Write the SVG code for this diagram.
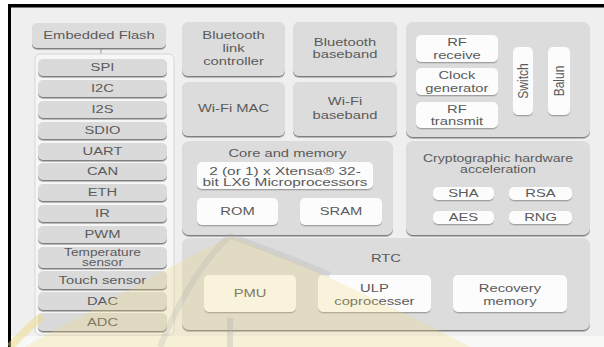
<svg xmlns="http://www.w3.org/2000/svg" width="604" height="347" viewBox="0 0 604 347">
<style>
.t{font-family:"Liberation Sans",Arial,Helvetica,sans-serif;font-size:11px;fill:#5a5a5a;text-anchor:middle;dominant-baseline:central;transform-box:fill-box;transform-origin:center;transform:scaleX(1.34)}
.r{font-family:"Liberation Sans",Arial,Helvetica,sans-serif;font-size:12px;fill:#5a5a5a;text-anchor:middle;dominant-baseline:central}
.blk{fill:#dcdcdc;filter:url(#sh)}
.itm{fill:#dadada;filter:url(#sh)}
.wb{fill:#fcfcfc;filter:url(#sh2)}
.big{font-size:11.5px}
.sm{font-size:10.2px}
</style>
<defs>
<filter id="sh" x="-5%" y="-10%" width="110%" height="130%"><feDropShadow dx="0" dy="1.5" stdDeviation="0.4" flood-color="#7f7f7f"/></filter>
<filter id="sh2" x="-5%" y="-10%" width="110%" height="130%"><feDropShadow dx="0" dy="1.3" stdDeviation="0.4" flood-color="#a0a0a0"/></filter>
</defs>
<rect x="0" y="0" width="604" height="347" fill="#ffffff"/>
<rect x="11" y="7" width="593" height="340" fill="#efefef"/>
<rect x="11" y="336" width="593" height="11" fill="#f8f8f6"/>
<rect x="8" y="4" width="596" height="3.5" fill="#000"/>
<rect x="8" y="4" width="3" height="343" fill="#000"/>

<g id="connectors">
<line x1="101" y1="48" x2="101" y2="56" stroke="#9a9a9a" stroke-width="1"/>
</g>

<g id="flash"><rect class="blk" x="32" y="23" width="134" height="25" rx="5"/><text class="t" x="99" y="35">Embedded Flash</text></g>

<g id="periph">
<rect x="35" y="54" width="139" height="281" rx="5" fill="#f6f6f6" stroke="#d6d6d6" stroke-width="1"/>
<g id="spi"><rect class="itm" x="38" y="59" width="129" height="17" rx="5"/><text class="t" x="102.5" y="67.5">SPI</text></g>
<g id="i2c"><rect class="itm" x="38" y="80" width="129" height="17" rx="5"/><text class="t" x="102.5" y="88.5">I2C</text></g>
<g id="i2s"><rect class="itm" x="38" y="101" width="129" height="17" rx="5"/><text class="t" x="102.5" y="109.5">I2S</text></g>
<g id="sdio"><rect class="itm" x="38" y="122" width="129" height="17" rx="5"/><text class="t" x="102.5" y="130.5">SDIO</text></g>
<g id="uart"><rect class="itm" x="38" y="143" width="129" height="17" rx="5"/><text class="t" x="102.5" y="151.5">UART</text></g>
<g id="can"><rect class="itm" x="38" y="163" width="129" height="17" rx="5"/><text class="t" x="102.5" y="171.5">CAN</text></g>
<g id="eth"><rect class="itm" x="38" y="184" width="129" height="17" rx="5"/><text class="t" x="102.5" y="192.5">ETH</text></g>
<g id="ir"><rect class="itm" x="38" y="205" width="129" height="17" rx="5"/><text class="t" x="102.5" y="213.5">IR</text></g>
<g id="pwm"><rect class="itm" x="38" y="226" width="129" height="17" rx="5"/><text class="t" x="102.5" y="234.5">PWM</text></g>
<g id="temp"><rect class="itm" x="38" y="247" width="129" height="21" rx="5"/><text class="t sm"><tspan x="102.5" y="252.3">Temperature</tspan><tspan x="102.5" y="262.7">sensor</tspan></text></g>
<g id="touch"><rect class="itm" x="38" y="271" width="129" height="18" rx="5"/><text class="t" x="102.5" y="280">Touch sensor</text></g>
<g id="dac"><rect class="itm" x="38" y="292" width="129" height="18" rx="5"/><text class="t" x="102.5" y="301">DAC</text></g>
<g id="adc"><rect class="itm" x="38" y="313" width="129" height="18" rx="5"/><text class="t" x="102.5" y="322">ADC</text></g>
</g>

<g id="btlc"><rect class="blk" x="182" y="22" width="103" height="54" rx="6"/><text class="t"><tspan x="233.5" y="35">Bluetooth</tspan><tspan x="233.5" y="48">link</tspan><tspan x="233.5" y="61">controller</tspan></text></g>
<g id="btbb"><rect class="blk" x="293" y="22" width="104" height="54" rx="6"/><text class="t"><tspan x="345" y="42">Bluetooth</tspan><tspan x="345" y="54">baseband</tspan></text></g>
<g id="wifimac"><rect class="blk" x="182" y="82" width="103" height="54" rx="6"/><text class="t" x="233.5" y="108">Wi-Fi MAC</text></g>
<g id="wifibb"><rect class="blk" x="293" y="82" width="104" height="54" rx="6"/><text class="t"><tspan x="345" y="101">Wi-Fi</tspan><tspan x="345" y="115">baseband</tspan></text></g>

<g id="rf">
<rect class="blk" x="406" y="22" width="184" height="115" rx="7"/>
<g id="rfrx"><rect class="wb" x="416" y="35" width="82" height="27" rx="5"/><text class="t"><tspan x="457" y="42">RF</tspan><tspan x="457" y="55">receive</tspan></text></g>
<g id="clk"><rect class="wb" x="416" y="68" width="82" height="27" rx="5"/><text class="t"><tspan x="457" y="75">Clock</tspan><tspan x="457" y="88">generator</tspan></text></g>
<g id="rftx"><rect class="wb" x="416" y="102" width="82" height="26" rx="5"/><text class="t"><tspan x="457" y="108.5">RF</tspan><tspan x="457" y="121">transmit</tspan></text></g>
<g id="switch"><rect class="wb" x="513" y="47" width="20" height="68" rx="5"/><text class="r" transform="translate(523 81) scale(1.25 1) rotate(-90)">Switch</text></g>
<g id="balun"><rect class="wb" x="548" y="47" width="22" height="68" rx="5"/><text class="r" transform="translate(559 81) scale(1.25 1) rotate(-90)">Balun</text></g>
</g>

<g id="core">
<rect class="blk" x="182" y="141" width="211" height="94" rx="7"/>
<text class="t" x="287.5" y="153">Core and memory</text>
<g id="cpu"><rect class="wb" x="197" y="162" width="176" height="27" rx="5"/><text class="t big"><tspan x="285" y="170.5">2 (or 1) x Xtensa® 32-</tspan><tspan x="285" y="182">bit LX6 Microprocessors</tspan></text></g>
<g id="rom"><rect class="wb" x="197" y="198" width="81" height="27" rx="5"/><text class="t" x="237.5" y="211.5">ROM</text></g>
<g id="sram"><rect class="wb" x="300" y="198" width="82" height="27" rx="5"/><text class="t" x="341" y="211.5">SRAM</text></g>
</g>

<g id="crypto">
<rect class="blk" x="406" y="141" width="184" height="94" rx="7"/>
<text class="t" style="font-size:10.5px"><tspan x="498" y="159">Cryptographic hardware</tspan><tspan x="498" y="170">acceleration</tspan></text>
<g id="sha"><rect class="wb" x="433" y="187" width="61" height="13" rx="5"/><text class="t" x="463.5" y="193.5">SHA</text></g>
<g id="rsa"><rect class="wb" x="509" y="187" width="63" height="13" rx="5"/><text class="t" x="540.5" y="193.5">RSA</text></g>
<g id="aes"><rect class="wb" x="433" y="211" width="61" height="13" rx="5"/><text class="t" x="463.5" y="217.5">AES</text></g>
<g id="rng"><rect class="wb" x="509" y="211" width="63" height="13" rx="5"/><text class="t" x="540.5" y="217.5">RNG</text></g>
</g>

<g id="rtc">
<rect class="blk" x="182" y="238" width="408" height="92" rx="7"/>
<text class="t" x="386" y="258">RTC</text>
<g id="pmu"><rect class="wb" x="204" y="275" width="92" height="37" rx="5"/><text class="t" x="250" y="293.5">PMU</text></g>
<g id="ulp"><rect class="wb" x="318" y="275" width="113" height="37" rx="5"/><text class="t"><tspan x="374.5" y="288">ULP</tspan><tspan x="374.5" y="300.5">coprocesser</tspan></text></g>
<g id="recov"><rect class="wb" x="453" y="275" width="114" height="37" rx="5"/><text class="t"><tspan x="510" y="288">Recovery</tspan><tspan x="510" y="300.5">memory</tspan></text></g>
</g>

<g id="watermark" pointer-events="none">
<path d="M 25 347 C 90 310 180 262 230 236 C 300 262 400 310 470 347 Z" fill="#eed77a" opacity="0.25"/>
<path d="M 10 347 C 20 336 30 326 42 316" fill="none" stroke="#eed77a" stroke-width="8" opacity="0.45"/>
<path d="M 160 347 C 175 310 200 262 230 236 C 270 250 300 262 330 275" fill="none" stroke="#a8a8a8" stroke-width="6" opacity="0.22"/>
<rect x="227" y="318" width="6" height="29" fill="#a8a8a8" opacity="0.3"/>
</g>
</svg>
